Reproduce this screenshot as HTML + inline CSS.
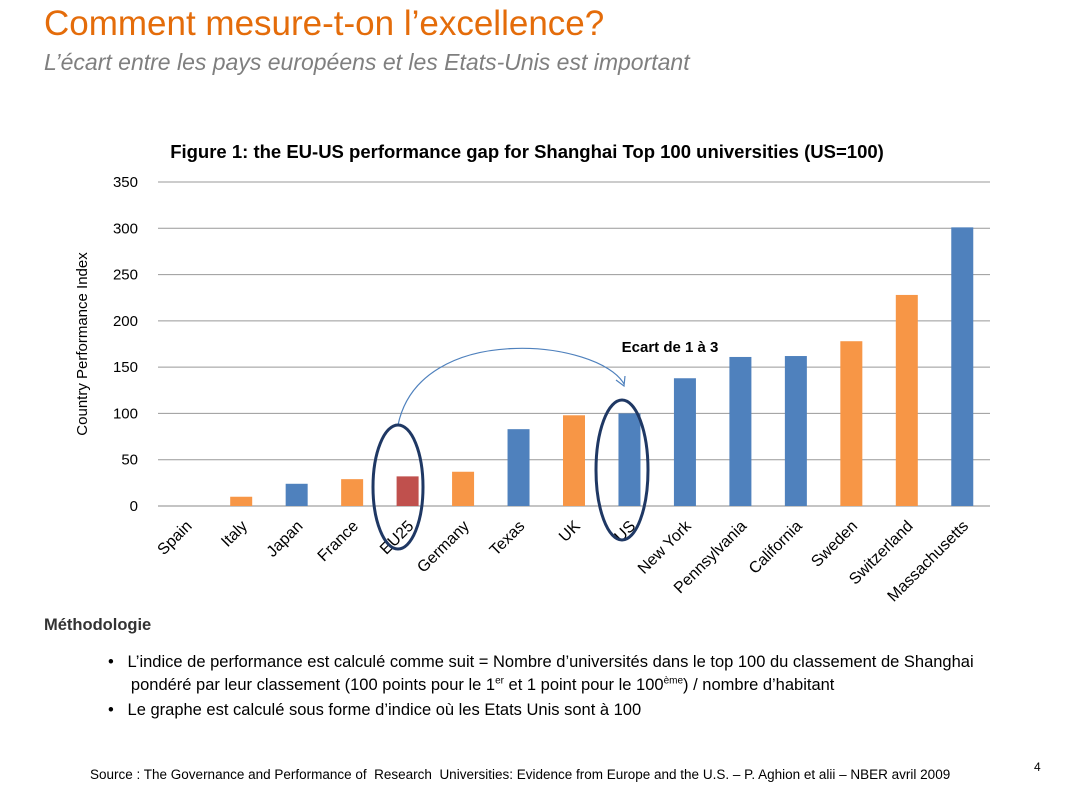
<!DOCTYPE html>
<html><head><meta charset="utf-8"><style>
body{margin:0;width:1076px;height:799px;background:#fff;font-family:"Liberation Sans",sans-serif;overflow:hidden;position:relative}
.t{position:absolute;white-space:nowrap}
</style></head><body>
<div class="t" style="left:44px;top:4px;font-size:35px;color:#e46c0a">Comment mesure-t-on l’excellence?</div>
<div class="t" style="left:44px;top:49px;font-size:23px;font-style:italic;color:#7f7f7f">L’écart entre les pays européens et les Etats-Unis est important</div>
<svg width="1076" height="799" style="position:absolute;left:0;top:0">
<text x="527" y="158" text-anchor="middle" font-size="18.5" font-weight="bold" fill="#000">Figure 1: the EU-US performance gap for Shanghai Top 100 universities (US=100)</text>
<text transform="translate(87,344) rotate(-90)" text-anchor="middle" font-size="15" fill="#000">Country Performance Index</text>
<g id="grid"></g><g id="bars"></g><g id="xl"></g>
<text x="670" y="352" text-anchor="middle" font-size="15" font-weight="bold">Ecart de 1 à 3</text>
<path d="M398,425 C420,320 600,340 624,384" fill="none" stroke="#4f81bd" stroke-width="1.2"/>
<path d="M616,380 L624,386 L625,376" fill="none" stroke="#4f81bd" stroke-width="1.2"/>
<ellipse cx="398" cy="487" rx="25" ry="62" fill="none" stroke="#1f3864" stroke-width="3"/>
<ellipse cx="622" cy="470" rx="26" ry="70" fill="none" stroke="#1f3864" stroke-width="3"/>
</svg>
<div class="t" style="left:44px;top:616px;font-size:16.5px;font-weight:bold;color:#333">Méthodologie</div>
<div class="t" style="left:108px;top:651px;font-size:16.5px;line-height:23px;color:#000">•&nbsp;&nbsp; L’indice de performance est calculé comme suit = Nombre d’universités dans le top 100 du classement de Shanghai<br>&nbsp;&nbsp;&nbsp;&nbsp; pondéré par leur classement (100 points pour le 1<sup style="font-size:10px;line-height:0">er</sup> et 1 point pour le 100<sup style="font-size:10px;line-height:0">ème</sup>) / nombre d’habitant</div>
<div class="t" style="left:108px;top:701px;font-size:16.5px;color:#000">•&nbsp;&nbsp; Le graphe est calculé sous forme d’indice où les Etats Unis sont à 100</div>
<div class="t" style="left:90px;top:767px;font-size:13.5px;color:#000">Source : The Governance and Performance of&nbsp; Research&nbsp; Universities: Evidence from Europe and the U.S. – P. Aghion et alii – NBER avril 2009</div>
<div class="t" style="left:1034px;top:760px;font-size:12px">4</div>
<script>
const categories=["Spain","Italy","Japan","France","EU25","Germany","Texas","UK","US","New York","Pennsylvania","California","Sweden","Switzerland","Massachusetts"];
const values=[0,10,24,29,32,37,83,98,100,138,161,162,178,228,301];
const colorKeys=["b","o","b","o","r","o","b","o","b","b","b","b","o","o","b"];
const ticks=[0,50,100,150,200,250,300,350];
const C={b:"#4f81bd",o:"#f79646",r:"#c0504d"};
const X0=158,X1=990,Y0=506,Y1=182,MAX=350;
const step=(X1-X0)/categories.length;
const y=v=>Y0-(v/MAX)*(Y0-Y1);
const xc=i=>X0+step*(i+0.5);
const ns="http://www.w3.org/2000/svg";
const g=document.getElementById("grid"),b=document.getElementById("bars"),xl=document.getElementById("xl");
ticks.forEach(t=>{
 const l=document.createElementNS(ns,"line");
 
 
 l.setAttribute("x1",X0);l.setAttribute("x2",X1);l.setAttribute("y1",y(t));l.setAttribute("y2",y(t));
 l.setAttribute("stroke",t===0?"#888":"#999");l.setAttribute("stroke-width","1");g.appendChild(l);
 const tx=document.createElementNS(ns,"text");
 
 
 tx.setAttribute("x",138);tx.setAttribute("y",y(t)+5);tx.setAttribute("text-anchor","end");tx.setAttribute("font-size","15");tx.textContent=t;g.appendChild(tx);
});
categories.forEach((c,i)=>{
 const r=document.createElementNS(ns,"rect");
 
 
 const w=22;
 r.setAttribute("x",xc(i)-w/2);r.setAttribute("width",w);r.setAttribute("y",y(values[i]));r.setAttribute("height",Y0-y(values[i]));
 r.setAttribute("fill",C[colorKeys[i]]);b.appendChild(r);
 const t=document.createElementNS(ns,"text");
 
 
 t.setAttribute("transform",`translate(${xc(i)+7},${527}) rotate(-45)`);
 t.setAttribute("text-anchor","end");t.setAttribute("font-size","16");t.textContent=c;xl.appendChild(t);
});
</script>
</body></html>
